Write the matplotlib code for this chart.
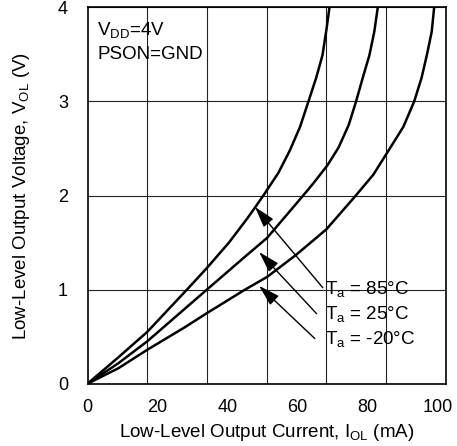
import matplotlib
matplotlib.use("Agg")
import matplotlib.pyplot as plt
import numpy as np

plt.rcParams['font.family'] = ['Liberation Sans', 'DejaVu Sans']

# curves: current (mA) -> voltage (V)
i_85 = [0, 8.8, 17.05, 28.4, 34.1, 40.4, 45.5, 47.8, 50.4, 54.5, 57.8, 60.7, 63.1, 65.3, 67.1, 68.3, 69.1]
v_85 = [0, 0.28, 0.55, 1.0, 1.23, 1.50, 1.75, 1.87, 2.01, 2.24, 2.48, 2.73, 3.0, 3.25, 3.49, 3.78, 4.0]

i_25 = [0, 8.8, 17.05, 34.1, 45.3, 51.3, 61.6, 64.5, 68.5, 71.7, 74.6, 76.7, 78.6, 80.5, 81.9, 82.9]
v_25 = [0, 0.217, 0.45, 1.0, 1.36, 1.55, 2.0, 2.13, 2.32, 2.51, 2.75, 3.0, 3.25, 3.49, 3.74, 4.0]

i_m20 = [0, 8.8, 17.05, 27.8, 34.1, 45.0, 51.3, 59.6, 68.2, 76.4, 81.6, 85.5, 90.2, 93.3, 95.4, 96.9, 98.3, 99.0]
v_m20 = [0, 0.164, 0.36, 0.60, 0.75, 1.0, 1.135, 1.37, 1.64, 1.99, 2.22, 2.45, 2.73, 3.0, 3.25, 3.49, 3.74, 4.0]

x_ticks = [0, 20, 40, 60, 80, 100]
y_ticks = [0, 1, 2, 3, 4]
labels = ['T$_\\mathregular{a}$ = 85°C', 'T$_\\mathregular{a}$ = 25°C', 'T$_\\mathregular{a}$ = -20°C']

fig = plt.figure(figsize=(4.57, 4.46), dpi=100)
ax = fig.add_axes([0.1915, 0.1397, 0.7838, 0.8439])

ax.set_xlim(0, 102.3)
ax.set_ylim(0, 4)

# grid is on sixths of the width, not on the labelled ticks
ax.set_xticks(np.arange(1, 6) * 102.3 / 6, minor=True)
ax.set_xticks(x_ticks)
ax.set_yticks(y_ticks)
ax.grid(False)
ax.grid(True, which='minor', axis='x', color='#222222', lw=0.8)
ax.grid(True, which='major', axis='y', color='#222222', lw=0.8)
ax.tick_params(which='both', length=0)
ax.tick_params(axis='x', pad=11, labelsize=13)
ax.tick_params(axis='y', pad=14, labelsize=13)
for s in ax.spines.values():
    s.set_linewidth(1.2)

for xs, ys in [(i_85, v_85), (i_25, v_25), (i_m20, v_m20)]:
    ax.plot(xs, ys, color='black', lw=1.8, solid_joinstyle='round', solid_capstyle='round')

ax.text(0.027, 0.925, 'V$_\\mathregular{DD}$=4V', transform=ax.transAxes, fontsize=13.5)
ax.text(0.027, 0.862, 'PSON=GND', transform=ax.transAxes, fontsize=13.5)

# arrow heads (on the curves) and label positions
heads = [(47.8, 1.88), (49.0, 1.40), (49.0, 1.04)]
tails = [(67.2, 1.02), (65.4, 0.745), (64.9, 0.48)]
text_pos = [(67.7, 1.0), (67.7, 0.73), (67.7, 0.47)]
for lab, h, t, p in zip(labels, heads, tails, text_pos):
    ax.annotate('', xy=h, xytext=t,
                arrowprops=dict(arrowstyle='-|>,head_length=1.3,head_width=0.38',
                                color='black', lw=1.0, shrinkA=0, shrinkB=0))
    ax.text(p[0], p[1], lab, fontsize=13.5, ha='left', va='center')

ax.set_xlabel('Low-Level Output Current, I$_\\mathregular{OL}$ (mA)', fontsize=13.5, labelpad=4)
ax.set_ylabel('Low-Level Output Voltage, V$_\\mathregular{OL}$ (V)', fontsize=13.5, labelpad=19)

fig.savefig('out.png', dpi=100)
